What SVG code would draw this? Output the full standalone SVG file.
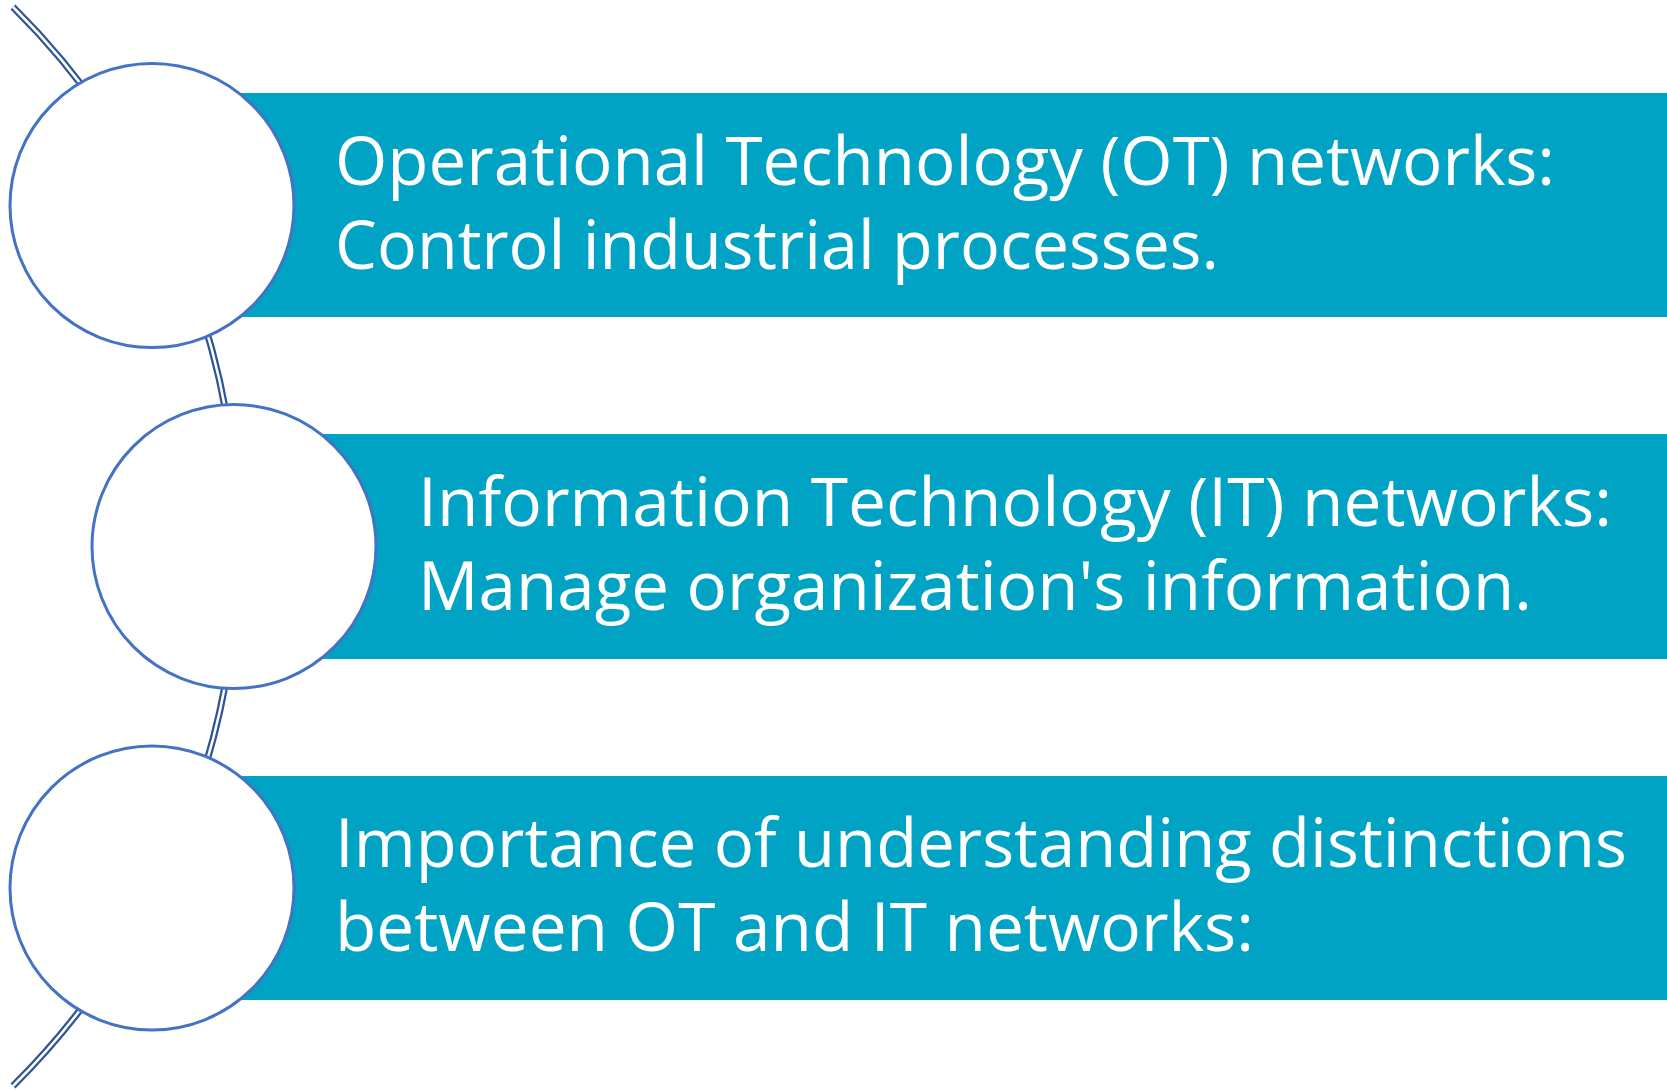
<svg xmlns="http://www.w3.org/2000/svg" width="1667" height="1090" viewBox="0 0 1667 1090">
<style>
.band{fill:#00A3C4}
.circ{fill:#FFFFFF;stroke:#4472C4;stroke-width:3}
.arcO{fill:none;stroke:#2F5597;stroke-width:7}
.arcI{fill:none;stroke:#FFFFFF;stroke-width:2.5}
.t{font-family:"Open Sans","Noto Sans",sans-serif;font-size:68px;fill:#FFFFFF}
</style>
<rect width="1667" height="1090" fill="#FFFFFF"/>
<g id="connectors">
<path class="arcO" d="M13,7 A760,760 0 0 1 13,1086"/>
<path class="arcI" d="M13,7 A760,760 0 0 1 13,1086"/>
</g>
<g id="node1">
<rect class="band" x="152" y="93" width="1515" height="224"/>
<circle class="circ" cx="152" cy="205.5" r="142"/>
<text class="t" x="335" y="185" textLength="1220" lengthAdjust="spacingAndGlyphs">Operational Technology (OT) networks:</text>
<text class="t" x="335" y="269" textLength="884" lengthAdjust="spacingAndGlyphs">Control industrial processes.</text>
</g>
<g id="node2">
<rect class="band" x="234" y="434" width="1433" height="225"/>
<circle class="circ" cx="234" cy="546.5" r="142"/>
<text class="t" x="418" y="526" textLength="1194" lengthAdjust="spacingAndGlyphs">Information Technology (IT) networks:</text>
<text class="t" x="418" y="610" textLength="1114" lengthAdjust="spacingAndGlyphs">Manage organization's information.</text>
</g>
<g id="node3">
<rect class="band" x="152" y="776" width="1515" height="224"/>
<circle class="circ" cx="152" cy="888" r="142"/>
<text class="t" x="335" y="867" textLength="1292" lengthAdjust="spacingAndGlyphs">Importance of understanding distinctions</text>
<text class="t" x="335" y="951" textLength="919" lengthAdjust="spacingAndGlyphs">between OT and IT networks:</text>
</g>
</svg>
